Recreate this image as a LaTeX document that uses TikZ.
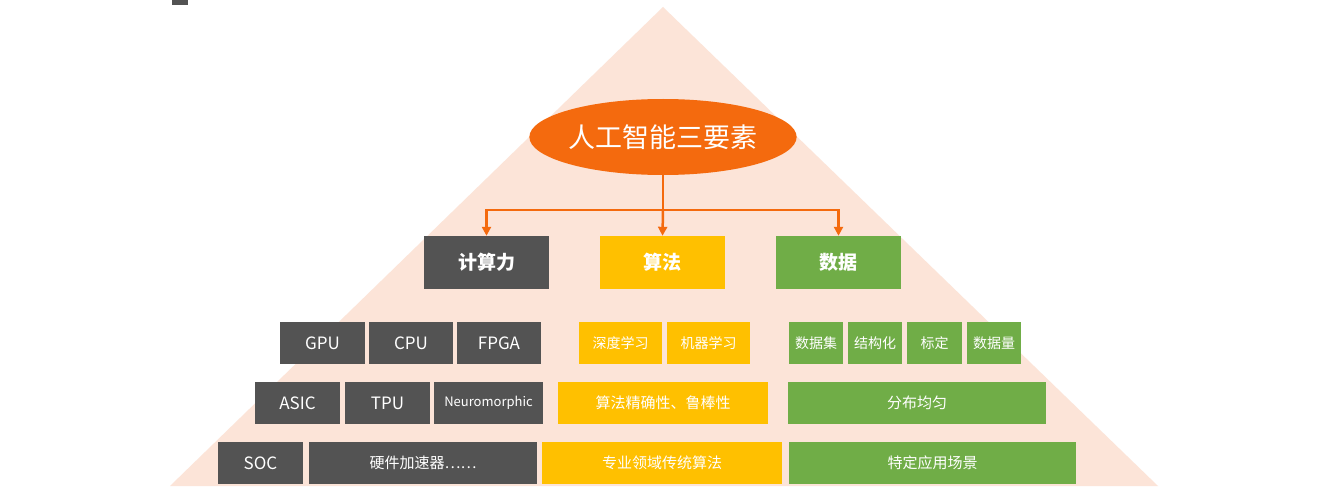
\documentclass[tikz,border=0pt]{standalone}
\usepackage{fontspec}
\setmainfont{Noto Sans CJK SC}
\usetikzlibrary{shapes.geometric,arrows.meta}
\definecolor{tri}{HTML}{FCE4D8}
\definecolor{gr}{HTML}{535353}
\definecolor{ye}{HTML}{FFC000}
\definecolor{gn}{HTML}{70AD47}
\definecolor{og}{HTML}{F46A0E}
\tikzset{
 bx/.style={draw=none,inner sep=0pt,text=white,font=\fontsize{17}{17}\selectfont},
 lk/.style={draw=og,line width=2.5pt,-{Triangle[length=9pt,width=9pt]}}
}
\newcommand{\bxat}[7]{\node[bx,fill=#6,minimum width=#3pt-#2pt,minimum height=#5pt-#4pt,anchor=north west,#7] (#1) at (#2,#4) {};}
\begin{document}
\begin{tikzpicture}[x=1pt,y=-1pt]
\useasboundingbox (0,0) rectangle (1331,500);
\fill[white] (0,0) rectangle (1331,500);
\fill[tri] (663,7) -- (1158,486) -- (170,486) -- cycle;
\fill[gr] (172,0) rectangle (188,5);
\node[ellipse,fill=og,minimum width=210pt,minimum height=76pt,inner sep=0pt,text=white,font=\fontsize{27}{27}\selectfont] (top) at (663,137) {人工智能三要素};
% heads
\node[bx,fill=gr,minimum width=125pt,minimum height=53pt,font=\fontsize{19}{19}\selectfont\bfseries] (h1) at (486.5,262.5) {计算力};
\node[bx,fill=ye,minimum width=125pt,minimum height=53pt,font=\fontsize{19}{19}\selectfont\bfseries] (h2) at (662.5,262.5) {算法};
\node[bx,fill=gn,minimum width=125pt,minimum height=53pt,font=\fontsize{19}{19}\selectfont\bfseries] (h3) at (838.5,262.5) {数据};
\coordinate (j) at (663,210);
\draw[draw=og,line width=2.5pt] (top.south) -- (j);
\draw[lk] (j) -- (h2.north);
\draw[lk] (j) -| (h1.north);
\draw[lk] (j) -| (h3.north);
% row 1
\node[bx,fill=gr,minimum width=85pt,minimum height=42pt] (gpu) at (322.5,343) {GPU};
\node[bx,fill=gr,minimum width=84pt,minimum height=42pt] (cpu) at (411,343) {CPU};
\node[bx,fill=gr,minimum width=84pt,minimum height=42pt] (fpga) at (499,343) {FPGA};
\node[bx,fill=ye,minimum width=83pt,minimum height=42pt,font=\fontsize{14}{14}\selectfont] (dl) at (620.5,343) {深度学习};
\node[bx,fill=ye,minimum width=83pt,minimum height=42pt,font=\fontsize{14}{14}\selectfont] (ml) at (708.5,343) {机器学习};
\node[bx,fill=gn,minimum width=54pt,minimum height=42pt,font=\fontsize{14}{14}\selectfont] (ds) at (816,343) {数据集};
\node[bx,fill=gn,minimum width=54pt,minimum height=42pt,font=\fontsize{14}{14}\selectfont] (st) at (875,343) {结构化};
\node[bx,fill=gn,minimum width=55pt,minimum height=42pt,font=\fontsize{14}{14}\selectfont] (bd) at (934.5,343) {标定};
\node[bx,fill=gn,minimum width=54pt,minimum height=42pt,font=\fontsize{14}{14}\selectfont] (dq) at (994,343) {数据量};
% row 2
\node[bx,fill=gr,minimum width=85pt,minimum height=42pt] (asic) at (297.5,403) {ASIC};
\node[bx,fill=gr,minimum width=85pt,minimum height=42pt] (tpu) at (387.5,403) {TPU};
\node[bx,fill=gr,minimum width=109pt,minimum height=42pt,font=\fontsize{13}{13}\selectfont] (neu) at (488.5,403) {Neuromorphic};
\node[bx,fill=ye,minimum width=210pt,minimum height=42pt,font=\fontsize{15}{15}\selectfont] (acc) at (663,403) {算法精确性、鲁棒性};
\node[bx,fill=gn,minimum width=258pt,minimum height=42pt,font=\fontsize{15}{15}\selectfont] (dist) at (917,403) {分布均匀};
% row 3
\node[bx,fill=gr,minimum width=85pt,minimum height=42pt] (soc) at (260.5,463) {SOC};
\node[bx,fill=gr,minimum width=228pt,minimum height=42pt,font=\fontsize{15}{15}\selectfont] (hw) at (423,463) {硬件加速器……};
\node[bx,fill=ye,minimum width=240pt,minimum height=42pt,font=\fontsize{15}{15}\selectfont] (trad) at (662,463) {专业领域传统算法};
\node[bx,fill=gn,minimum width=287pt,minimum height=42pt,font=\fontsize{15}{15}\selectfont] (app) at (932.5,463) {特定应用场景};
\end{tikzpicture}
\end{document}
